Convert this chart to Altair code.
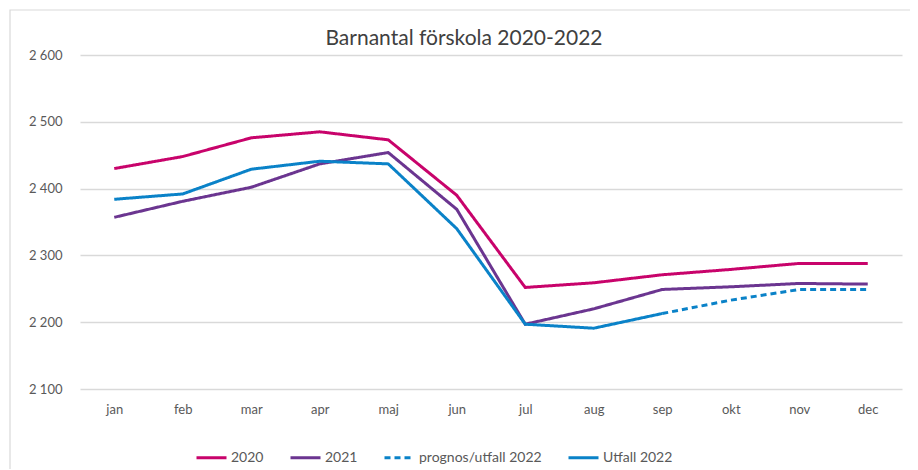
import altair as alt
import pandas as pd

months = ["jan", "feb", "mar", "apr", "maj", "jun", "jul", "aug", "sep", "okt", "nov", "dec"]
v2020 = [2430, 2448, 2476, 2485, 2473, 2390, 2252, 2259, 2271, 2279, 2288, 2288]
v2021 = [2357, 2381, 2402, 2437, 2454, 2369, 2197, 2220, 2249, 2253, 2258, 2257]
utfall2022 = [2384, 2392, 2429, 2441, 2437, 2340, 2197, 2191, 2213, None, None, None]
prognos2022 = [None, None, None, None, None, None, None, None, 2213, 2233, 2249, 2249]

series = ["2020", "2021", "prognos/utfall 2022", "Utfall 2022"]
colors = ["#C8036B", "#6B3590", "#0A82C8", "#0A82C8"]
dashes = [[1, 0], [1, 0], [6, 4], [1, 0]]

rows = []
for name, vals in zip(series, [v2020, v2021, prognos2022, utfall2022]):
    for m, v in zip(months, vals):
        if v is not None:
            rows.append({"månad": m, "serie": name, "värde": v})
df = pd.DataFrame(rows)

W, H = 822, 334

leg = alt.Legend(title=None, orient="none", direction="horizontal",
                 legendX=115, legendY=386, symbolType="stroke",
                 symbolSize=900, symbolStrokeWidth=3, labelOffset=3,
                 labelFontSize=14, labelColor="#595959", labelFont="Lato",
                 columnPadding=20)

lines = alt.Chart(df).mark_line(strokeWidth=3).encode(
    x=alt.X("månad:N", sort=months, title=None,
            scale=alt.Scale(type="point", padding=0.5),
            axis=alt.Axis(domain=False, ticks=False, labelPadding=14, labelFontSize=13,
                          labelAngle=0, labelColor="#595959", labelFont="Lato", grid=False)),
    y=alt.Y("värde:Q", title=None,
            scale=alt.Scale(domain=[2100, 2600], nice=False, zero=False),
            axis=alt.Axis(values=[2100, 2200, 2300, 2400, 2500, 2600], domain=False, ticks=False,
                          labelPadding=18, labelFontSize=13, labelColor="#595959", labelFont="Lato",
                          gridColor="#d9d9d9", gridWidth=1.3,
                          labelExpr="replace(format(datum.value, ','), ',', ' ')")),
    color=alt.Color("serie:N", scale=alt.Scale(domain=series, range=colors), legend=leg),
    strokeDash=alt.StrokeDash("serie:N", scale=alt.Scale(domain=series, range=dashes), legend=leg),
    detail="serie:N",
)

frame = alt.Chart(pd.DataFrame({"a": [0]})).mark_rect(
    fill=None, stroke="#d9d9d9", strokeWidth=1.2
).encode(
    x=alt.value(-70), x2=alt.value(W + 15), y=alt.value(-45), y2=alt.value(H + 100)
)

chart = alt.layer(frame, lines).properties(
    width=W, height=H,
    title=alt.TitleParams("Barnantal förskola 2020-2022", fontSize=21, font="Lato",
                          fontWeight="normal", color="#404040", anchor="middle", dx=-27, offset=-40),
    padding={"left": 72, "top": 47, "right": 8, "bottom": 80},
    autosize=alt.AutoSizeParams(type="none"),
).configure_view(stroke=None)

chart.save("out.html", embed_options={"renderer": "svg", "actions": False})
